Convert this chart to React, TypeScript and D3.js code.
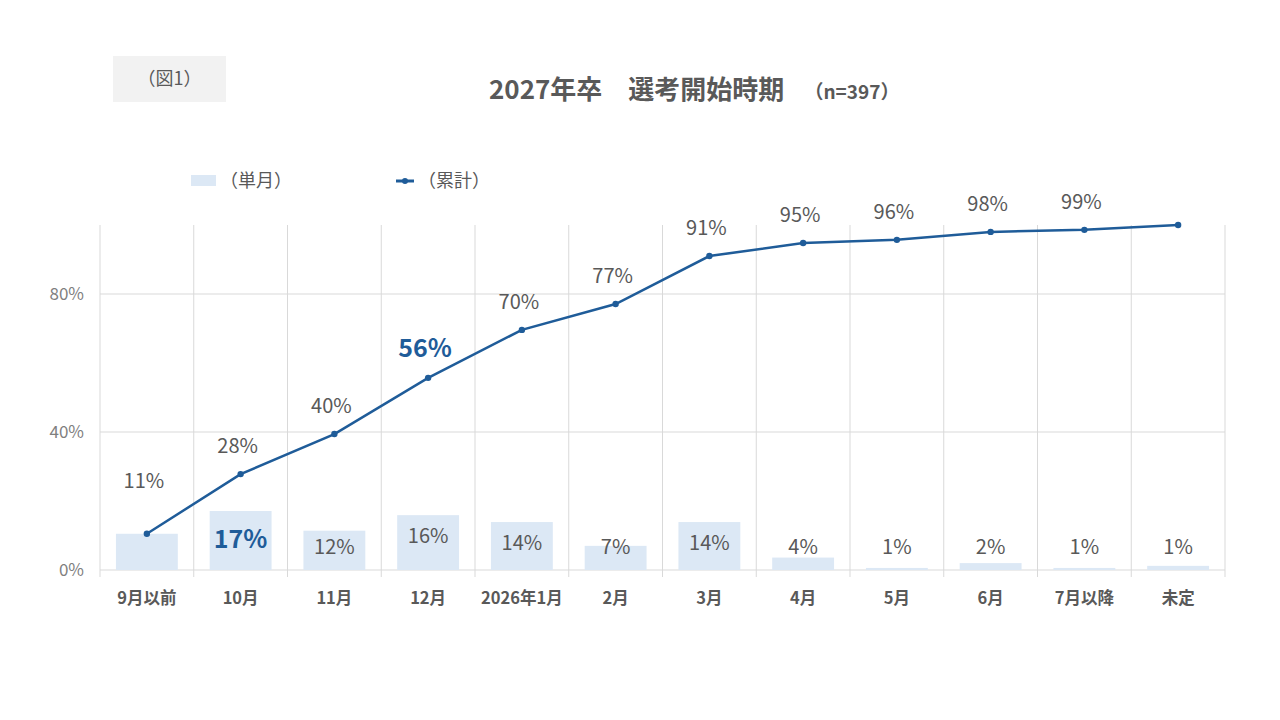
import React from "react";
import * as d3 from "d3";

const categories = ["9月以前", "10月", "11月", "12月", "2026年1月", "2月", "3月", "4月", "5月", "6月", "7月以降", "未定"];
const monthly = [10.5, 17.1, 11.4, 15.9, 13.9, 7.0, 13.9, 3.6, 0.6, 2.0, 0.6, 1.2];
const monthlyLabels = ["", "17%", "12%", "16%", "14%", "7%", "14%", "4%", "1%", "2%", "1%", "1%"];
const cumulative = [10.5, 27.8, 39.4, 55.7, 69.6, 77.1, 91.0, 94.8, 95.7, 98.0, 98.6, 100];
const cumulativeLabels = ["11%", "28%", "40%", "56%", "70%", "77%", "91%", "95%", "96%", "98%", "99%", ""];
const yTicks = [0, 40, 80];
const highlightMonthly = 1;
const highlightCumulative = 3;

const FONT = "'Noto Sans CJK JP', 'Noto Sans', sans-serif";
const TEXT = "#595959";
const LINE = "#1f5c99";
const BAR = "#dce8f5";
const GRID = "#d9d9d9";

export default function App() {
  const W = 1280, H = 720;
  const left = 100, right = 1225, top = 225, bottom = 570;
  const x = d3.scaleBand<string>().domain(categories).range([left, right]).paddingInner(0.34).paddingOuter(0.17);
  const xb = d3.scaleBand<string>().domain(categories).range([left, right]);
  const y = d3.scaleLinear().domain([0, 100]).range([bottom, top]);
  const cx = (c: string) => (xb(c) as number) + xb.bandwidth() / 2;
  const line = d3.line<number>().x((_, i) => cx(categories[i])).y((d) => y(d));
  const bounds = categories.map((c) => xb(c) as number).concat([right]);

  return (
    <svg width={W} height={H} style={{ position: "absolute", left: 0, top: 0, background: "#fff" }} fontFamily={FONT}>
      <rect x={113} y={56} width={113} height={46} fill="#f2f2f2" />
      <text x={169.5} y={85} textAnchor="middle" fontSize={18} fill={TEXT}>（図1）</text>
      <text x={489} y={99} fontSize={26} fontWeight="bold" fill={TEXT}>
        2027年卒　選考開始時期
        <tspan fontSize={19} dx={20}>（n=397）</tspan>
      </text>

      <rect x={191} y={175} width={25} height={11} fill={BAR} />
      <text x={220} y={187} fontSize={18} fill={TEXT}>（単月）</text>
      <line x1={396} x2={414} y1={181} y2={181} stroke={LINE} strokeWidth={3} />
      <circle cx={405} cy={181} r={3} fill={LINE} />
      <text x={418} y={187} fontSize={18} fill={TEXT}>（累計）</text>

      {bounds.map((b, i) => (
        <line key={"v" + i} x1={b} x2={b} y1={top} y2={bottom + 7} stroke={GRID} strokeWidth={1} />
      ))}
      {yTicks.map((t) => (
        <g key={"h" + t}>
          <line x1={left} x2={right} y1={y(t)} y2={y(t)} stroke={GRID} strokeWidth={1} />
          <text x={84} y={y(t) + 6} textAnchor="end" fontSize={17} fill="#7f7f7f">{t}%</text>
        </g>
      ))}

      {categories.map((c, i) => (
        <rect key={"b" + i} x={x(c)} y={y(monthly[i])} width={x.bandwidth()} height={bottom - y(monthly[i])} fill={BAR} />
      ))}
      {categories.map((c, i) =>
        monthlyLabels[i] ? (
          <text key={"bl" + i} x={cx(c)} y={Math.min(y(monthly[i]) + 28, 554) + (i === highlightMonthly ? 9 : 0)}
            textAnchor="middle"
            fontSize={i === highlightMonthly ? 25 : 20}
            fontWeight={i === highlightMonthly ? "bold" : "normal"}
            fill={i === highlightMonthly ? LINE : TEXT}>{monthlyLabels[i]}</text>
        ) : null
      )}

      <path d={line(cumulative) || ""} fill="none" stroke={LINE} strokeWidth={2.5} />
      {cumulative.map((v, i) => (
        <circle key={"p" + i} cx={cx(categories[i])} cy={y(v)} r={3.2} fill={LINE} />
      ))}
      {cumulative.map((v, i) =>
        cumulativeLabels[i] ? (
          <text key={"cl" + i} x={cx(categories[i]) - 3} y={y(v) - (i === 0 ? 46 : i === highlightCumulative ? 21 : 21)}
            textAnchor="middle"
            fontSize={i === highlightCumulative ? 25 : 20}
            fontWeight={i === highlightCumulative ? "bold" : "normal"}
            fill={i === highlightCumulative ? LINE : TEXT}>{cumulativeLabels[i]}</text>
        ) : null
      )}

      {categories.map((c, i) => (
        <text key={"x" + i} x={cx(c)} y={604} textAnchor="middle" fontSize={16.5} fontWeight="bold" fill={TEXT}>{c}</text>
      ))}
    </svg>
  );
}
